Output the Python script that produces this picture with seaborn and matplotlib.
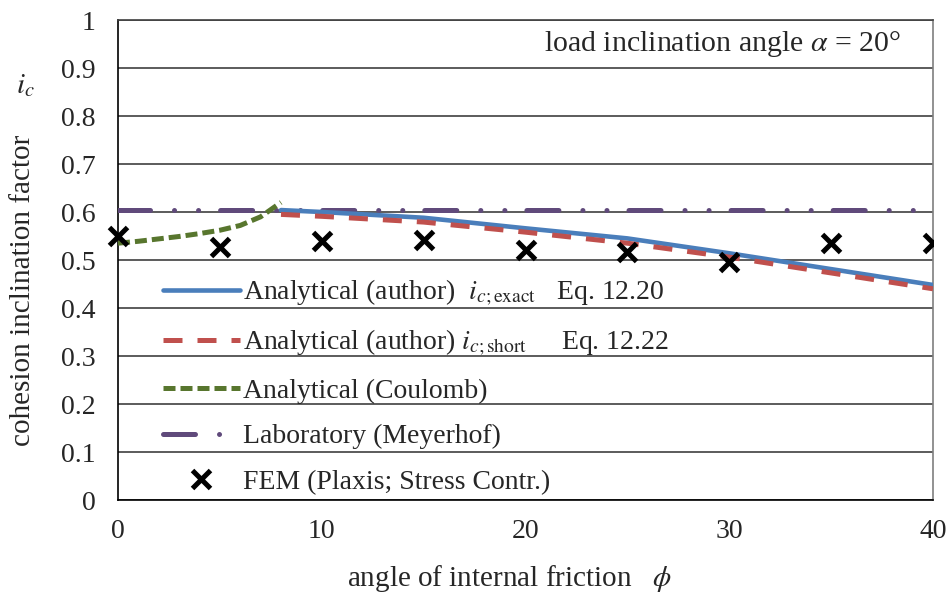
import matplotlib
matplotlib.use("Agg")
import matplotlib.pyplot as plt
import seaborn as sns
import pandas as pd
from matplotlib.lines import Line2D
from matplotlib.patches import Rectangle

# ---------------- data ----------------
phi_author = [8, 10, 15, 20, 25, 30, 35, 40]
ic_exact = [0.604, 0.600, 0.588, 0.566, 0.545, 0.514, 0.481, 0.448]
ic_short = [0.595, 0.591, 0.579, 0.558, 0.535, 0.506, 0.473, 0.440]

phi_coulomb = [0, 1, 2, 3, 4, 5, 6, 7, 8]
ic_coulomb = [0.535, 0.539, 0.544, 0.549, 0.555, 0.562, 0.572, 0.590, 0.620]

phi_lab = [0, 40]
ic_meyerhof = [0.605, 0.605]

phi_fem = [0, 5, 10, 15, 20, 25, 30, 35, 40]
ic_fem = [0.549, 0.528, 0.540, 0.542, 0.521, 0.517, 0.496, 0.535, 0.535]

x_ticks = [0, 10, 20, 30, 40]
y_ticks = [0, 0.1, 0.2, 0.3, 0.4, 0.5, 0.6, 0.7, 0.8, 0.9, 1.0]
y_ticklabels = ["0", "0.1", "0.2", "0.3", "0.4", "0.5", "0.6", "0.7", "0.8", "0.9", "1"]

labels = [
    r"Analytical (author)  $i_{c;\mathrm{exact}}$   Eq. 12.20",
    r"Analytical (author) $i_{c;\mathrm{short}}$     Eq. 12.22",
    "Analytical (Coulomb)",
    "Laboratory (Meyerhof)",
    "FEM (Plaxis; Stress Contr.)",
]

# ---------------- style ----------------
sns.set_style("white")
plt.rcParams["font.family"] = ["Liberation Serif", "DejaVu Serif"]
plt.rcParams["mathtext.fontset"] = "stix"

c_blue = "#4a7ebb"
c_red = "#c0504d"
c_green = "#58762e"
c_purple = "#604a7b"

fig = plt.figure(figsize=(9.47, 5.96), dpi=100)
L, R, T, B = 118, 933, 20, 500
ax = fig.add_axes([L / 947, 1 - B / 596, (R - L) / 947, (B - T) / 596])

ls_purple = (0, (6.4, 4.8, 0.01, 4.8, 0.01, 4.4))
ls_red = (0, (3.8, 3.0))
ls_green = (0, (2.4, 1.0))

sns.lineplot(x=phi_lab, y=ic_meyerhof, ax=ax, color=c_purple, lw=3.6,
             linestyle=ls_purple, dash_capstyle="round", zorder=3)
sns.lineplot(x=phi_coulomb, y=ic_coulomb, ax=ax, color=c_green, lw=3.6,
             linestyle=ls_green, zorder=4)
sns.lineplot(x=phi_author, y=ic_exact, ax=ax, color=c_blue, lw=3.3, zorder=4)
sns.lineplot(x=phi_author, y=ic_short, ax=ax, color=c_red, lw=3.6,
             linestyle=ls_red, zorder=5)
sns.scatterplot(x=phi_fem, y=ic_fem, ax=ax, marker="x", s=13 ** 2,
                color="black", linewidth=3.6, zorder=6)
clip = Rectangle((-0.05, 0), 1.05, 1, transform=ax.transAxes)
for coll in ax.collections:
    coll.set_clip_path(clip)

ax.set_xlim(0, 40)
ax.set_ylim(0, 1)
ax.set_xticks(x_ticks)
ax.set_xticklabels([str(v) for v in x_ticks])
ax.set_yticks(y_ticks)
ax.set_yticklabels(y_ticklabels)
ax.tick_params(axis="both", which="major", labelsize=20, direction="out",
               length=6, width=1.2, color="black")
ax.tick_params(axis="y", pad=10)
ax.tick_params(axis="x", pad=8)
ax.yaxis.grid(True, color="#404040", lw=1.2, zorder=0)
ax.xaxis.grid(False)
ax.set_axisbelow(True)
for s in ["left", "bottom"]:
    ax.spines[s].set_color("black")
    ax.spines[s].set_linewidth(1.2)
ax.spines["top"].set_color("#404040")
ax.spines["top"].set_linewidth(1.2)
ax.spines["right"].set_color("#7f7f7f")
ax.spines["right"].set_linewidth(1.2)

ax.set_xlabel(r"angle of internal friction   $\phi$", fontsize=21)
ax.xaxis.set_label_coords((510 - L) / (R - L), (B - 579) / (B - T))
ax.xaxis.label.set_va("center")
ax.set_ylabel("cohesion inclination factor", fontsize=21)
ax.yaxis.set_label_coords((23 - L) / (R - L), (B - 290) / (B - T))
ax.yaxis.label.set_va("center")

fig.text(25 / 947, 1 - 86 / 596, r"$i_c$", fontsize=21, ha="center", va="center")
ax.text((722 - L) / (R - L), (B - 44) / (B - T),
        r"load inclination angle $\alpha$ = 20°", fontsize=21.5,
        ha="center", va="center", transform=ax.transAxes)

handles = [
    Line2D([], [], color=c_blue, lw=3.3),
    Line2D([], [], color=c_red, lw=3.6, linestyle=ls_red),
    Line2D([], [], color=c_green, lw=3.6, linestyle=ls_green),
    Line2D([], [], color=c_purple, lw=3.6, linestyle=ls_purple,
           dash_capstyle="round"),
    Line2D([], [], color="black", marker="x", ms=13, mew=3.6, linestyle="None"),
]
leg = ax.legend(handles=handles, labels=labels, loc="upper left",
                bbox_to_anchor=((163 - L) / (R - L), (B - 278) / (B - T)),
                frameon=False, fontsize=20, borderpad=0, borderaxespad=0,
                handlelength=2.77, handletextpad=0.1, labelspacing=0.72)

fig.savefig("out.png", dpi=100)
